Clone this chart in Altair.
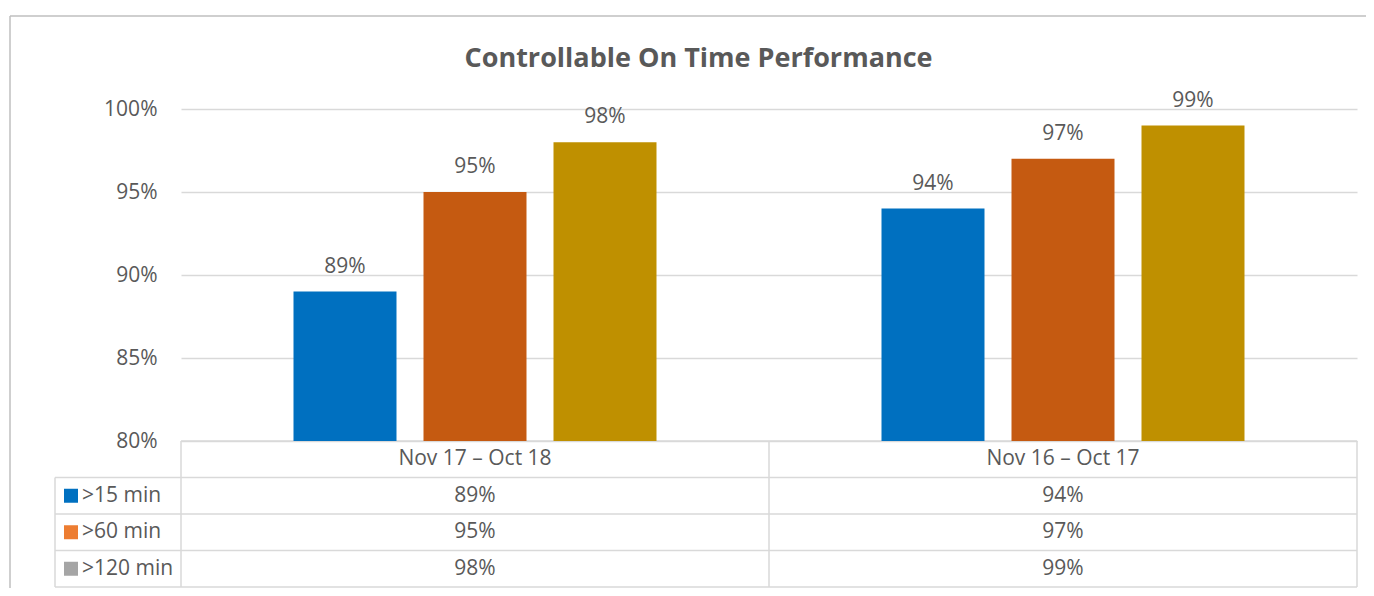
import altair as alt
import pandas as pd

# ---------------- data ----------------
categories = ["Nov 17 \u2013 Oct 18", "Nov 16 \u2013 Oct 17"]
series = [">15 min", ">60 min", ">120 min"]
values_nov17_oct18 = [89, 95, 98]
values_nov16_oct17 = [94, 97, 99]
bar_colors = ["#0070C0", "#C55A11", "#BF9000"]
key_colors = ["#0070C0", "#ED7D31", "#A5A5A5"]
y_ticks = [80, 85, 90, 95, 100]
title_text = "Controllable On Time Performance"

rows = []
for cat, vals in zip(categories, [values_nov17_oct18, values_nov16_oct17]):
    for s, v in zip(series, vals):
        rows.append({"period": cat, "series": s, "value": v, "label": f"{v}%"})
df = pd.DataFrame(rows)

table_rows = ["header"] + series
table_cells = [{"period": c, "row": "header", "text": c} for c in categories]
table_cells += [{"period": r["period"], "row": r["series"], "text": r["label"]} for r in rows]
table_df = pd.DataFrame(table_cells)
keys_df = pd.DataFrame({"row": series, "key": key_colors})
title_df = pd.DataFrame({"t": [title_text]})

# ---------------- layout ----------------
W, H = 1176, 332
TABLE_BOTTOM = 478
ROW_H = (TABLE_BOTTOM - H) / 4
LEG_LEFT = -126
FONT = "Open Sans"
TXT = "#595959"
GRID = "#D9D9D9"
FS = 21

x_enc = alt.X("period:N", sort=categories,
              scale=alt.Scale(domain=categories, paddingInner=0, paddingOuter=0),
              axis=None)
xo_enc = alt.XOffset("series:N", sort=series,
                     scale=alt.Scale(domain=series, paddingInner=0.2077, paddingOuter=0.8654))
y_scale = alt.Scale(domain=[80, 100], nice=False, zero=False)

bars = alt.Chart(df).mark_bar().encode(
    x=x_enc, xOffset=xo_enc,
    y=alt.Y("value:Q", scale=y_scale,
            axis=alt.Axis(values=y_ticks, labelExpr="datum.value + '%'", grid=True,
                          gridColor=GRID, gridWidth=1.5, domain=False, ticks=False,
                          labelPadding=24, labelFont=FONT, labelFontSize=FS,
                          labelColor=TXT, title=None)),
    y2=alt.datum(80),
    color=alt.Color("series:N", sort=series,
                    scale=alt.Scale(domain=series, range=bar_colors), legend=None),
)

labels = alt.Chart(df).mark_text(font=FONT, fontSize=FS, color=TXT,
                                 baseline="alphabetic", dy=-19).encode(
    x=x_enc, xOffset=xo_enc,
    y=alt.Y("value:Q", scale=y_scale, axis=None),
    text="label:N",
)

row_y = alt.Y("row:N", sort=table_rows,
              scale=alt.Scale(domain=table_rows, range=[H, TABLE_BOTTOM],
                              paddingInner=0, paddingOuter=0),
              axis=None)

cells = alt.Chart(table_df).mark_text(font=FONT, fontSize=FS, color=TXT,
                                      baseline="middle", align="center").encode(
    x=x_enc, y=row_y, text="text:N")

row_labels = alt.Chart(keys_df).mark_text(font=FONT, fontSize=FS, color=TXT,
                                          baseline="middle", align="left").encode(
    x=alt.value(-99), y=row_y, text="row:N")

keys = alt.Chart(keys_df).mark_square(size=196, opacity=1, filled=True).encode(
    x=alt.value(-110), y=row_y, color=alt.Color("key:N", scale=None))

title = alt.Chart(title_df).mark_text(font=FONT, fontSize=27, fontWeight="bold",
                                      color=TXT, align="center",
                                      baseline="alphabetic").encode(
    x=alt.value(517.5), y=alt.value(-42.5), text="t:N")

one = pd.DataFrame({"a": [0]})


def hrule(y, x1, x2, color=GRID, w=1.5):
    return alt.Chart(one).mark_rule(color=color, strokeWidth=w).encode(
        x=alt.value(x1), x2=alt.value(x2), y=alt.value(y))


def vrule(x, y1, y2, color=GRID, w=1.5):
    return alt.Chart(one).mark_rule(color=color, strokeWidth=w).encode(
        x=alt.value(x), y=alt.value(y1), y2=alt.value(y2))


grid_layers = [hrule(H, 0, W)]
for i in range(1, 5):
    grid_layers.append(hrule(H + i * ROW_H, LEG_LEFT, W))
grid_layers.append(vrule(LEG_LEFT, H + ROW_H, TABLE_BOTTOM))
for xv in [0, W / 2, W]:
    grid_layers.append(vrule(xv, H, TABLE_BOTTOM))

frame = [hrule(-93, -171, 1200, color="#BFBFBF", w=1.5),
         vrule(-171, -93, 500, color="#BFBFBF", w=1.5)]

chart = alt.layer(
    *frame, *grid_layers, bars, labels, cells, keys, row_labels, title
).resolve_scale(y="independent").properties(
    width=W, height=H,
    autosize=alt.AutoSizeParams(type="none"),
    padding={"left": 173, "top": 101, "right": 9, "bottom": 147},
    background="white",
).configure_view(stroke=None)

chart.save("out.html", embed_options={"renderer": "svg", "actions": False})
